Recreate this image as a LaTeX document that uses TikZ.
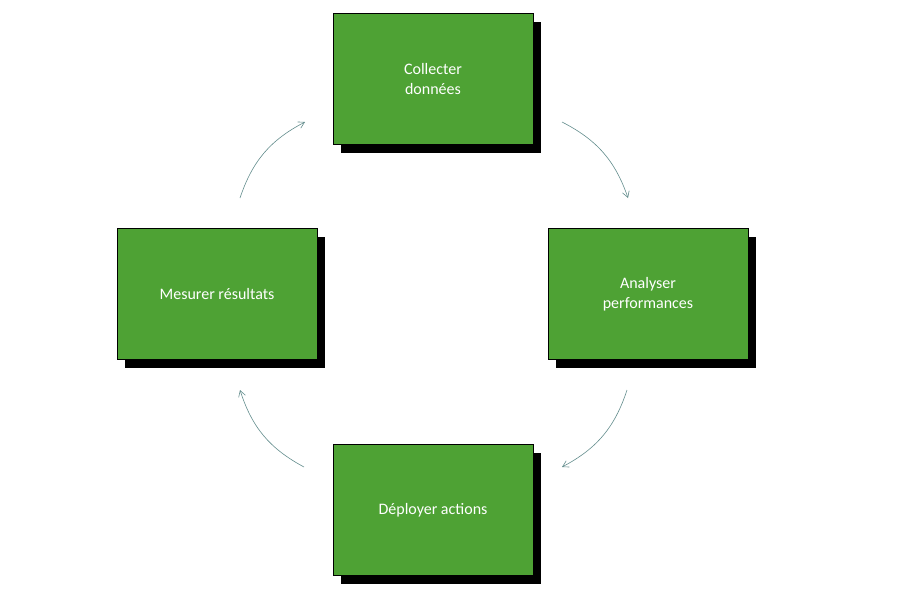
\documentclass[tikz,border=0pt]{standalone}
\usepackage{fontspec}
\setmainfont{Carlito}
\usetikzlibrary{arrows.meta,shadows}
\definecolor{stepgreen}{HTML}{4EA234}
\definecolor{cyclegray}{HTML}{628C8C}
\begin{document}
\begin{tikzpicture}[x=1pt,y=-1pt,
	stepbox/.style={draw=black,thick,fill=stepgreen,minimum width=200pt,minimum height=131pt,
		text=white,align=center,font=\fontsize{16}{20}\selectfont,
		drop shadow={shadow xshift=8pt,shadow yshift=-8pt,opacity=1,fill=black}},
	looparrow/.style={cyclegray,semithick,-{Straight Barb[length=6pt,width=7pt]},bend left=22}]
	\useasboundingbox (0,0) rectangle (897,598);
	%the four steps of the cycle
	\node[stepbox] (collect) at (433,79) {Collecter\\données};
	\node[stepbox] (analyse) at (648,294) {Analyser\\performances};
	\node[stepbox] (deploy) at (433,510) {Déployer actions};
	\node[stepbox] (measure) at (217,294) {Mesurer résultats};
	%arrow ends
	\coordinate (c1) at (562,122); \coordinate (a1) at (628,198);
	\coordinate (a2) at (627,390); \coordinate (d2) at (562,467);
	\coordinate (d3) at (304,467); \coordinate (m3) at (240,390);
	\coordinate (m4) at (240,198); \coordinate (c4) at (305,122);
	%the arrows
	\draw[looparrow] (c1) to (a1);
	\draw[looparrow] (a2) to (d2);
	\draw[looparrow] (d3) to (m3);
	\draw[looparrow] (m4) to (c4);
\end{tikzpicture}
\end{document}
